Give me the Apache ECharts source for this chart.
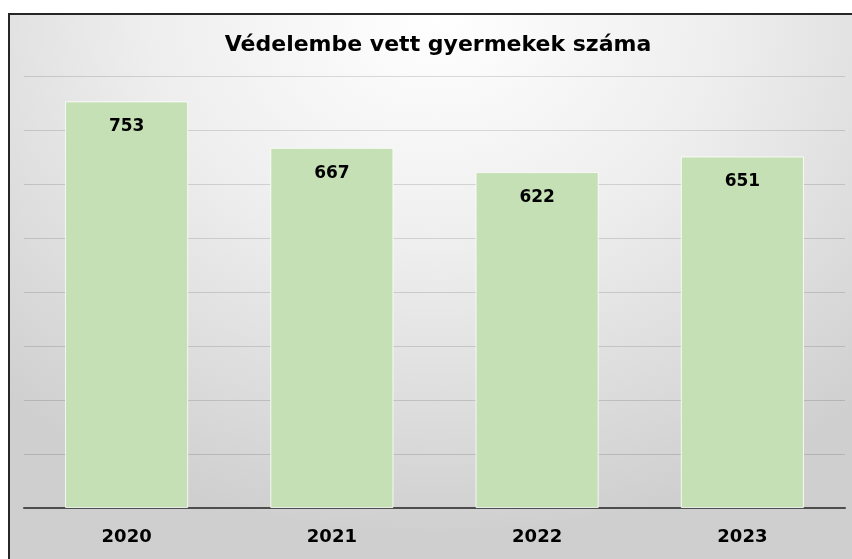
<!DOCTYPE html>
<html>
<head>
<meta charset="utf-8">
<script src="https://cdn.jsdelivr.net/npm/echarts@6/dist/echarts.min.js"></script>
<style>
  html, body { margin: 0; padding: 0; background: #fff; overflow: hidden; }
  #frame {
    position: absolute; left: 8px; top: 13px; width: 850px; height: 550px;
    border-left: 2px solid #262626; border-top: 2px solid #262626;
    background: radial-gradient(ellipse 75% 95% at 50% 0%, #ffffff 0%, #eeeeee 45%, #cfcfcf 100%);
  }
  #chart { position: absolute; left: 0; top: 0; width: 852px; height: 559px; }
</style>
</head>
<body>
<div id="frame"></div>
<div id="chart"></div>
<script>
// adatok
const years = ['2020', '2021', '2022', '2023']
const counts = [753, 667, 622, 651]
const titleText = 'Védelembe vett gyermekek száma'

const myChart = echarts.init(document.getElementById('chart'))
const option = {
  backgroundColor: 'transparent',
  textStyle: { fontFamily: 'DejaVu Sans' },
  title: {
    text: titleText,
    left: 433,
    textAlign: 'center',
    top: 29,
    textStyle: { fontSize: 22, fontWeight: 'bold', color: '#000' },
  },
  grid: { left: 24, right: 7, top: 76, bottom: 51 },
  xAxis: {
    type: 'category',
    data: years,
    axisLine: { lineStyle: { color: '#4d4d4d', width: 2 } },
    axisTick: { show: false },
    axisLabel: { fontSize: 18, fontWeight: 'bold', color: '#000', margin: 20 },
  },
  yAxis: {
    type: 'value',
    min: 0,
    max: 800,
    interval: 100,
    axisLabel: { show: false },
    axisLine: { show: false },
    splitLine: { lineStyle: { color: 'rgba(0,0,0,0.13)', width: 1 } },
  },
  series: [
    {
      type: 'bar',
      data: counts,
      barWidth: '60%',
      itemStyle: { color: '#c5e0b4', borderColor: 'rgba(255,255,255,0.8)', borderWidth: 1 },
      label: {
        show: true,
        position: 'insideTop',
        distance: 17,
        fontSize: 17,
        fontWeight: 'bold',
        color: '#000',
      },
    },
  ],
}
myChart.setOption(option)
</script>
</body>
</html>
